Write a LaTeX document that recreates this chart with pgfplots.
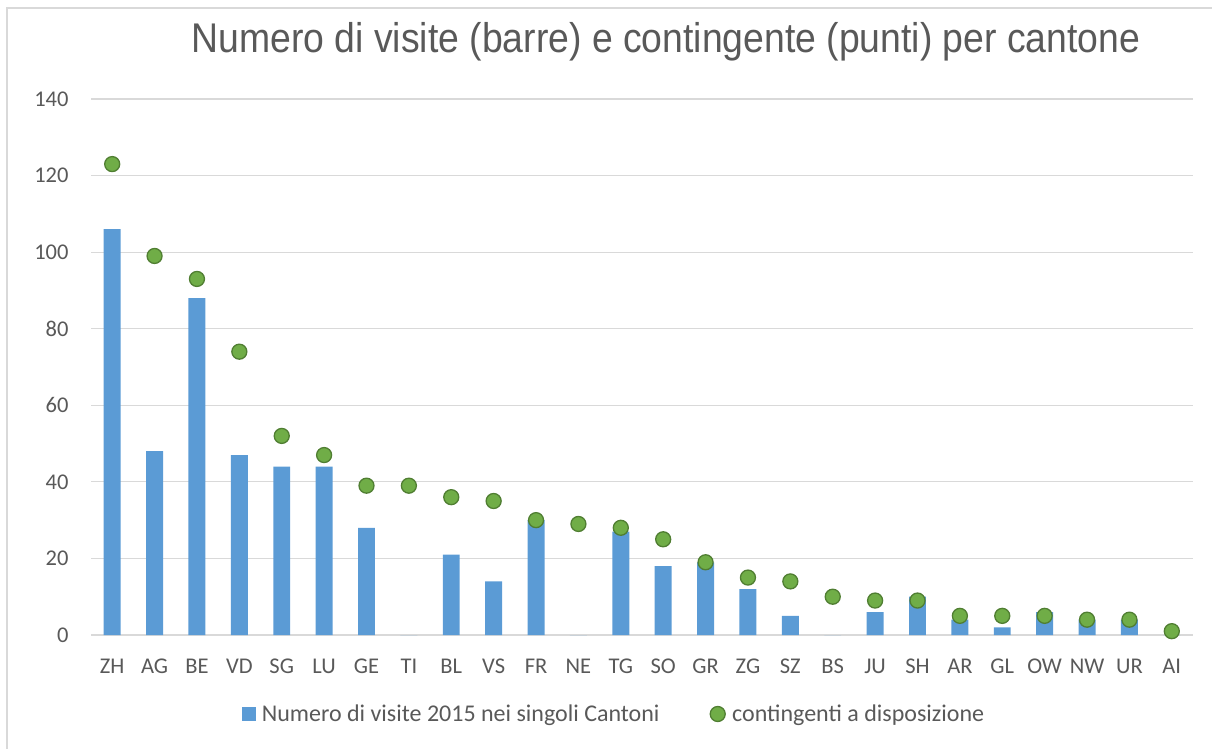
\documentclass[border=0pt]{standalone}
\usepackage{pgfplots}
\pgfplotsset{compat=1.18}
\usepackage{fontspec}
\setmainfont{Carlito}
\newfontfamily\titlefont{Liberation Sans}
\definecolor{barblue}{HTML}{5B9BD5}
\definecolor{dotgreen}{HTML}{70AD47}
\definecolor{dotedge}{HTML}{507E32}
\definecolor{gridgray}{HTML}{D9D9D9}
\definecolor{txtgray}{HTML}{595959}
\begin{document}
\begin{tikzpicture}
\useasboundingbox (-91bp,-114bp) rectangle (1121bp,635bp);
\draw[gridgray, line width=1.5bp] (-84bp,-114bp) -- (-84bp,627bp) -- (1121bp,627bp);
\begin{axis}[
  at={(0bp,0bp)}, anchor=south west,
  scale only axis,
  width=1102bp, height=536bp,
  xmin=-0.5, xmax=25.5,
  ymin=0, ymax=140,
  ytick={0,20,...,140},
  xtick=data,
  xticklabels={ZH,AG,BE,VD,SG,LU,GE,TI,BL,VS,FR,NE,TG,SO,GR,ZG,SZ,BS,JU,SH,AR,GL,OW,NW,UR,AI},
  axis line style={draw=none},
  major tick length=0pt,
  ymajorgrids,
  grid style={gridgray, line width=1.2bp},
  tick label style={font=\fontsize{22.5bp}{26bp}\selectfont, text=txtgray},
  /pgf/number format/assume math mode=true,
  yticklabel style={xshift=-19bp},
  xticklabel style={anchor=base, yshift=-38bp},
  legend style={at={(523bp,-79bp)}, anchor=center, draw=none, fill=none,
    font=\fontsize{24bp}{28bp}\selectfont, text=txtgray,
    legend columns=2,
    /tikz/every even column/.append style={column sep=48bp},
    inner sep=0pt},
  legend cell align=left,
]
\addplot[ybar, bar width=0.4, fill=barblue, draw=none,
  legend image code/.code={\fill[barblue] (0bp,-7bp) rectangle (14bp,7bp); \path[draw=none,fill=none] (0bp,0bp) -- (18bp,0bp);}]
coordinates {
(0,106) (1,48) (2,88) (3,47) (4,44) (5,44) (6,28) (7,0) (8,21) (9,14)
(10,30) (11,0) (12,27) (13,18) (14,19) (15,12) (16,5) (17,0) (18,6) (19,10)
(20,4) (21,2) (22,6) (23,4) (24,4) (25,0)
};
\addlegendentry{Numero di visite 2015 nei singoli Cantoni}
\addplot[only marks, mark=*, mark size=7.5bp,
  mark options={fill=dotgreen, draw=dotedge, line width=1.3bp},
  legend image code/.code={\draw[fill=dotgreen, draw=dotedge, line width=1.3bp] (7.5bp,0bp) circle (7.5bp); \path[draw=none,fill=none] (0bp,0bp) -- (20bp,0bp);}]
coordinates {
(0,123) (1,99) (2,93) (3,74) (4,52) (5,47) (6,39) (7,39) (8,36) (9,35)
(10,30) (11,29) (12,28) (13,25) (14,19) (15,15) (16,14) (17,10) (18,9) (19,9)
(20,5) (21,5) (22,5) (23,4) (24,4) (25,1)
};
\addlegendentry{contingenti a disposizione}
\end{axis}
\node[text=txtgray, font=\titlefont\fontsize{41.5bp}{48bp}\selectfont] at (575bp,593bp) {\scalebox{0.9}[1]{Numero di visite (barre) e contingente (punti) per cantone}};
\end{tikzpicture}
\end{document}
